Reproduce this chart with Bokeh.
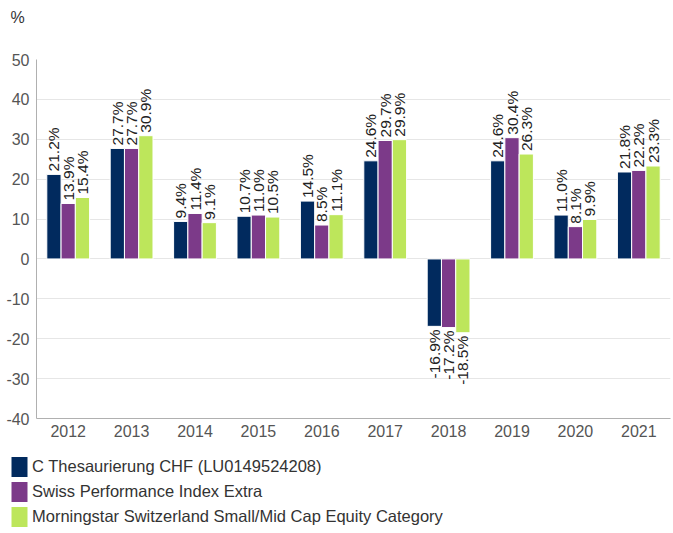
import math
from bokeh.plotting import figure
from bokeh.layouts import column
from bokeh.models import (ColumnDataSource, FactorRange, Range1d, FixedTicker,
                          Legend, LegendItem, Title)
from bokeh.transform import dodge
from bokeh.core.properties import value
from bokeh.embed import file_html
from bokeh.resources import INLINE

years = ["2012", "2013", "2014", "2015", "2016", "2017", "2018", "2019", "2020", "2021"]
fund = [21.2, 27.7, 9.4, 10.7, 14.5, 24.6, -16.9, 24.6, 11.0, 21.8]
index = [13.9, 27.7, 11.4, 11.0, 8.5, 29.7, -17.2, 30.4, 8.1, 22.2]
category = [15.4, 30.9, 9.1, 10.5, 11.1, 29.9, -18.5, 26.3, 9.9, 23.3]
series_names = ["C Thesaurierung CHF (LU0149524208)",
                "Swiss Performance Index Extra",
                "Morningstar Switzerland Small/Mid Cap Equity Category"]
colors = ["#012a5e", "#7c3a89", "#bde65b"]
y_ticks = [-40, -30, -20, -10, 0, 10, 20, 30, 40, 50]
unit_label = "%"

FONT = "Liberation Sans"
W = 671

# top strip holding the unit label
tf = figure(width=W, height=40, x_range=Range1d(0, 1), y_range=Range1d(0, 1),
            output_backend="svg", toolbar_location=None,
            x_axis_type=None, y_axis_type=None,
            min_border_left=10, min_border_right=0, min_border_top=0,
            min_border_bottom=0)
tf.frame_align = False
tf.outline_line_color = None
tf.xgrid.grid_line_color = None
tf.ygrid.grid_line_color = None
tf.add_layout(Title(text=unit_label, align="left", offset=0, text_font=FONT,
                    text_font_size="16px", text_color="#333333",
                    text_font_style="normal", standoff=16, vertical_align="top"),
              "above")

p = figure(x_range=FactorRange(*years, range_padding=0),
           y_range=Range1d(-40, 50),
           width=W, height=410, output_backend="svg", toolbar_location=None,
           min_border_left=36, min_border_right=1, min_border_top=19,
           min_border_bottom=32)
p.frame_align = False
p.outline_line_color = None
p.xgrid.grid_line_color = None
p.ygrid.grid_line_color = "#e6e6e6"
p.yaxis.ticker = FixedTicker(ticks=y_ticks)
p.yaxis.major_label_overrides = {t: str(t) for t in y_ticks}
for ax in (p.xaxis, p.yaxis):
    ax.axis_line_color = "#b0b0b0"
    ax.major_tick_line_color = None
    ax.minor_tick_line_color = None
    ax.major_tick_out = 0
    ax.major_tick_in = 0
    ax.major_label_text_font = FONT
    ax.major_label_text_font_size = "16px"
    ax.major_label_text_color = "#555555"
p.yaxis.major_label_standoff = 7
p.xaxis.major_label_standoff = 6

width = 0.225
offsets = [-0.225, 0.0, 0.225]
for vals, col, off in zip([fund, index, category], colors, offsets):
    labels = ["%.1f%%" % v for v in vals]
    pos = [v >= 0 for v in vals]
    src = ColumnDataSource(dict(x=years, top=vals, label=labels,
                                yoff=[-3 if q else 3 for q in pos],
                                align=["left" if q else "right" for q in pos]))
    p.vbar(x=dodge("x", off, range=p.x_range), top="top", bottom=0, width=width,
           source=src, fill_color=col, line_color="white", line_width=1)
    p.text(x=dodge("x", off, range=p.x_range), y="top", text="label", source=src,
           angle=math.pi / 2, text_align="align", text_baseline="middle",
           y_offset="yoff", text_font=value(FONT), text_font_size="15.5px",
           text_color="#222222")

# legend strip below the chart
lg = figure(width=W, height=81, x_range=Range1d(0, 1), y_range=Range1d(0, 1),
            output_backend="svg", toolbar_location=None,
            x_axis_type=None, y_axis_type=None,
            min_border_left=9, min_border_right=0, min_border_top=4,
            min_border_bottom=0)
lg.frame_align = False
lg.outline_line_color = None
lg.xgrid.grid_line_color = None
lg.ygrid.grid_line_color = None
swatches = []
for col in colors:
    # legend-only swatch renderer (zero-size, draws nothing in the plot area)
    swatches.append(lg.vbar(x=[0], top=[0], width=0, fill_color=col,
                            line_color=None))
legend = Legend(items=[LegendItem(label=n, renderers=[r]) for n, r in zip(series_names, swatches)],
                location="top_left", orientation="vertical",
                glyph_width=20, glyph_height=25, label_height=25, spacing=0,
                label_standoff=3, padding=0, margin=0,
                border_line_color=None, background_fill_alpha=0,
                label_text_font=FONT, label_text_font_size="16.5px",
                label_text_color="#333333")
lg.add_layout(legend, "center")

layout = column(tf, p, lg, spacing=0)
open("out.html", "w").write(file_html(layout, INLINE))
